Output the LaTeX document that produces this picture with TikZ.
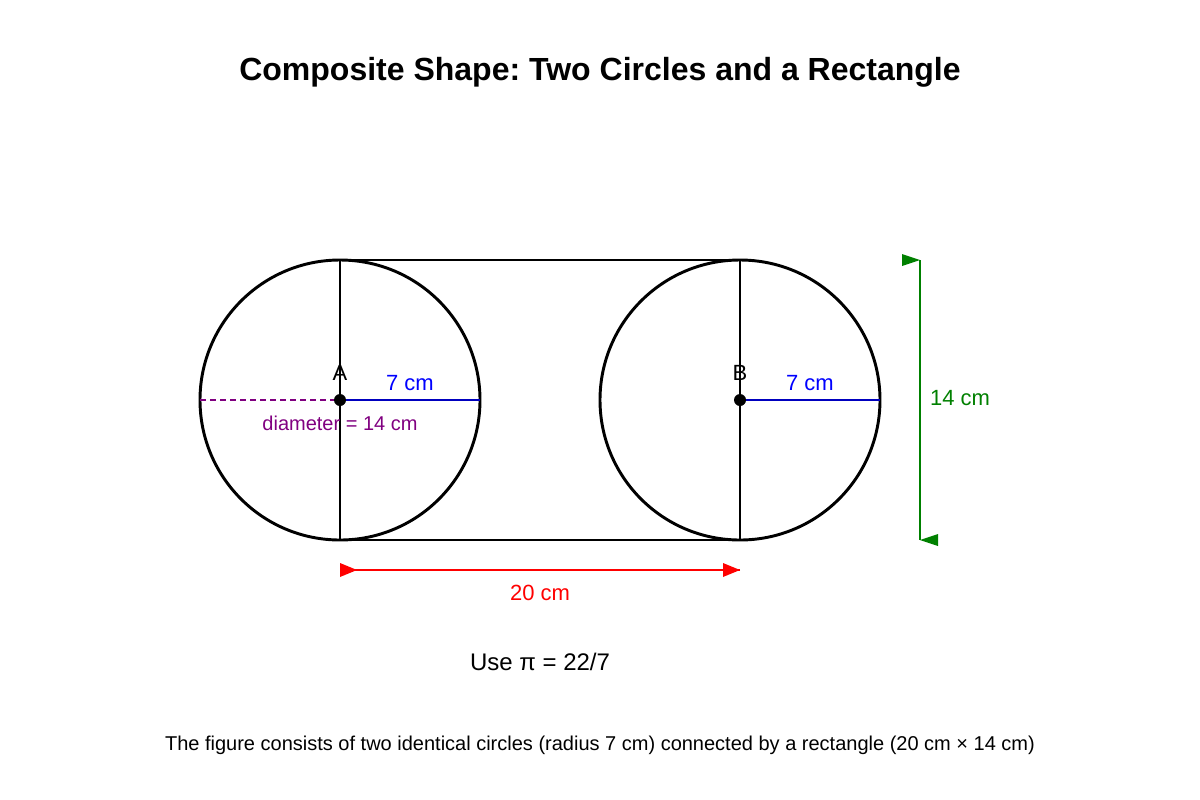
\documentclass[tikz,border=0pt]{standalone}
\usepackage{fontspec}
\setmainfont{Liberation Sans}
\frenchspacing
\definecolor{dgreen}{HTML}{008000}
\definecolor{dpurple}{HTML}{800080}
\begin{document}
\begin{tikzpicture}[x=0.75pt,y=-0.75pt,
  shape line/.style={line width=2.2pt,black},
  lbl/.style={anchor=base,inner sep=0pt,font=\fontsize{15}{18}\selectfont},
  big/.style={font=\fontsize{16.5}{20}\selectfont}]
\useasboundingbox (0,0) rectangle (1200,800);
% title
\node[lbl,font=\bfseries\fontsize{24}{28}\selectfont] (title) at (600,80) {Composite Shape: Two Circles and a Rectangle};
% centres
\coordinate (A) at (340,400);
\coordinate (B) at (740,400);
% rectangle
\draw[shape line] (340,260) rectangle (740,540);
% circles
\draw[shape line] (A) circle[radius=140];
\draw[shape line] (B) circle[radius=140];
% diameter (purple dashed) and radii (blue)
\coordinate (Aleft) at (200,400);
\coordinate (Aright) at (480,400);
\coordinate (Bright) at (880,400);
\draw[dpurple,line width=1.5pt,dash pattern=on 4.5pt off 3pt] (Aleft) -- (Aright);
\draw[blue!75!black,line width=1.2pt] (A) -- (Aright);
\draw[blue!75!black,line width=1.2pt] (B) -- (Bright);
\fill (A) circle[radius=6];
\fill (B) circle[radius=6];
\node[lbl,big] (la) at (340,380) {A};
\node[lbl,big] (lb) at (740,380) {B};
\node[lbl,big,text=blue] (ra) at (410,390) {7 cm};
\node[lbl,big,text=blue] (rb) at (810,390) {7 cm};
\node[lbl,text=dpurple] (dia) at (340,430) {diameter = 14 cm};
% length arrow (red)
\coordinate (L1) at (340,570);
\coordinate (L2) at (740,570);
\draw[red,line width=1.5pt] (L1) -- (L2);
\fill[red] (340,563) -- (357,570) -- (340,577) -- cycle;
\fill[red] (723,563) -- (740,570) -- (723,577) -- cycle;
\node[lbl,big,text=red] (len) at (540,600) {20 cm};
% height arrow (green)
\coordinate (H1) at (920,260);
\coordinate (H2) at (920,540);
\draw[dgreen,line width=1.5pt] (H1) -- (H2);
\fill[dgreen] (902,254) -- (920,260) -- (902,266) -- cycle;
\fill[dgreen] (938,534) -- (920,540) -- (938,546) -- cycle;
\node[lbl,big,text=dgreen] (hgt) at (960,405) {14 cm};
% notes
\node[lbl,font=\fontsize{18}{22}\selectfont] (pi) at (540,670) {Use π = 22/7};
\node[lbl,font=\fontsize{15}{18}\selectfont] (note) at (600,750) {The figure consists of two identical circles (radius 7 cm) connected by a rectangle (20 cm × 14 cm)};
\end{tikzpicture}
\end{document}
